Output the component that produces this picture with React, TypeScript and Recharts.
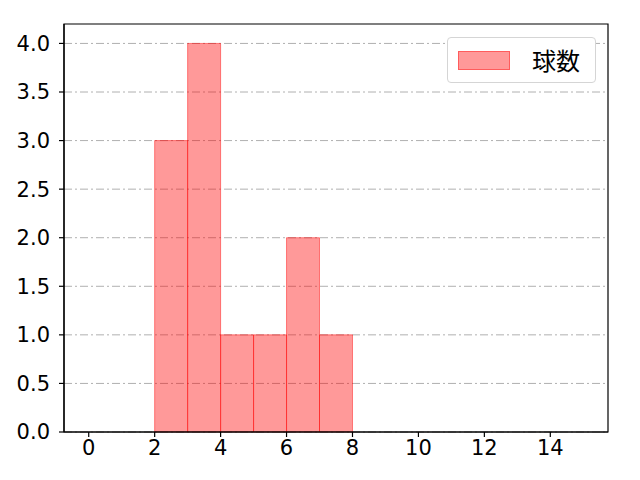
import React from 'react'
import { ComposedChart, XAxis, YAxis, CartesianGrid, ReferenceArea } from 'recharts'

const binStarts = [2, 3, 4, 5, 6, 7]
const binWidth = 1
const counts = [3, 4, 1, 1, 2, 1]
const seriesName = '球数'
const xTicks = [0, 2, 4, 6, 8, 10, 12, 14]
const yTicks = [0, 0.5, 1, 1.5, 2, 2.5, 3, 3.5, 4]
const xDomain: [number, number] = [-0.75, 15.75]
const yDomain: [number, number] = [0, 4.2]

const data = binStarts.map((s, i) => ({ mid: s + binWidth / 2, count: counts[i] }))

const tickStyle = { fill: '#000', fontSize: 21, fontFamily: '"DejaVu Sans"' }

const LegendBox = () => (
  <div
    style={{
      position: 'absolute',
      left: 447,
      top: 37,
      width: 147,
      height: 44,
      border: '1px solid #d5d5d5',
      borderRadius: 4,
      background: '#fff',
      display: 'flex',
      alignItems: 'center',
    }}
  >
    <span
      style={{
        display: 'inline-block',
        width: 52,
        height: 19,
        marginLeft: 10,
        background: 'rgba(255,0,0,0.4)',
        border: '1px solid rgba(255,0,0,0.4)',
        boxSizing: 'border-box',
      }}
    />
    <span style={{ marginLeft: 22, fontSize: 24, lineHeight: 1, fontFamily: '"Noto Sans CJK JP"', color: '#000' }}>{seriesName}</span>
  </div>
)

export default function App() {
  return (
    <div style={{ margin: -8, width: 640, height: 480, background: '#fff', position: 'relative' }}>
      <ComposedChart width={640} height={480} data={data} margin={{ top: 24, right: 32, bottom: 0, left: 0 }}>
        <CartesianGrid vertical={false} stroke="#b0b0b0" strokeDasharray="8 3 2 3" horizontalValues={yTicks} />
        <XAxis
          type="number"
          dataKey="mid"
          domain={xDomain}
          ticks={xTicks}
          allowDataOverflow
          height={48}
          tick={tickStyle}
          tickSize={5}
          tickMargin={3}
          axisLine={{ stroke: '#000', strokeWidth: 1.2 }}
          tickLine={{ stroke: '#000', strokeWidth: 1.2 }}
        />
        <YAxis
          type="number"
          domain={yDomain}
          ticks={yTicks}
          allowDataOverflow
          width={64}
          tick={tickStyle}
          tickSize={5}
          tickMargin={9}
          tickFormatter={(v: number) => v.toFixed(1)}
          axisLine={{ stroke: '#000', strokeWidth: 1.2 }}
          tickLine={{ stroke: '#000', strokeWidth: 1.2 }}
        />
        {binStarts.map((s, i) => (
          <ReferenceArea
            key={s}
            x1={s}
            x2={s + binWidth}
            y1={0}
            y2={counts[i]}
            fill="#ff0000"
            fillOpacity={0.4}
            stroke="#ff0000"
            strokeOpacity={0.45}
            strokeWidth={1}
            ifOverflow="visible"
          />
        ))}
        <ReferenceArea
          x1={xDomain[0]}
          x2={xDomain[1]}
          y1={yDomain[0]}
          y2={yDomain[1]}
          fill="none"
          stroke="#000"
          strokeWidth={1.2}
          ifOverflow="visible"
        />
      </ComposedChart>
      <LegendBox />
    </div>
  )
}
